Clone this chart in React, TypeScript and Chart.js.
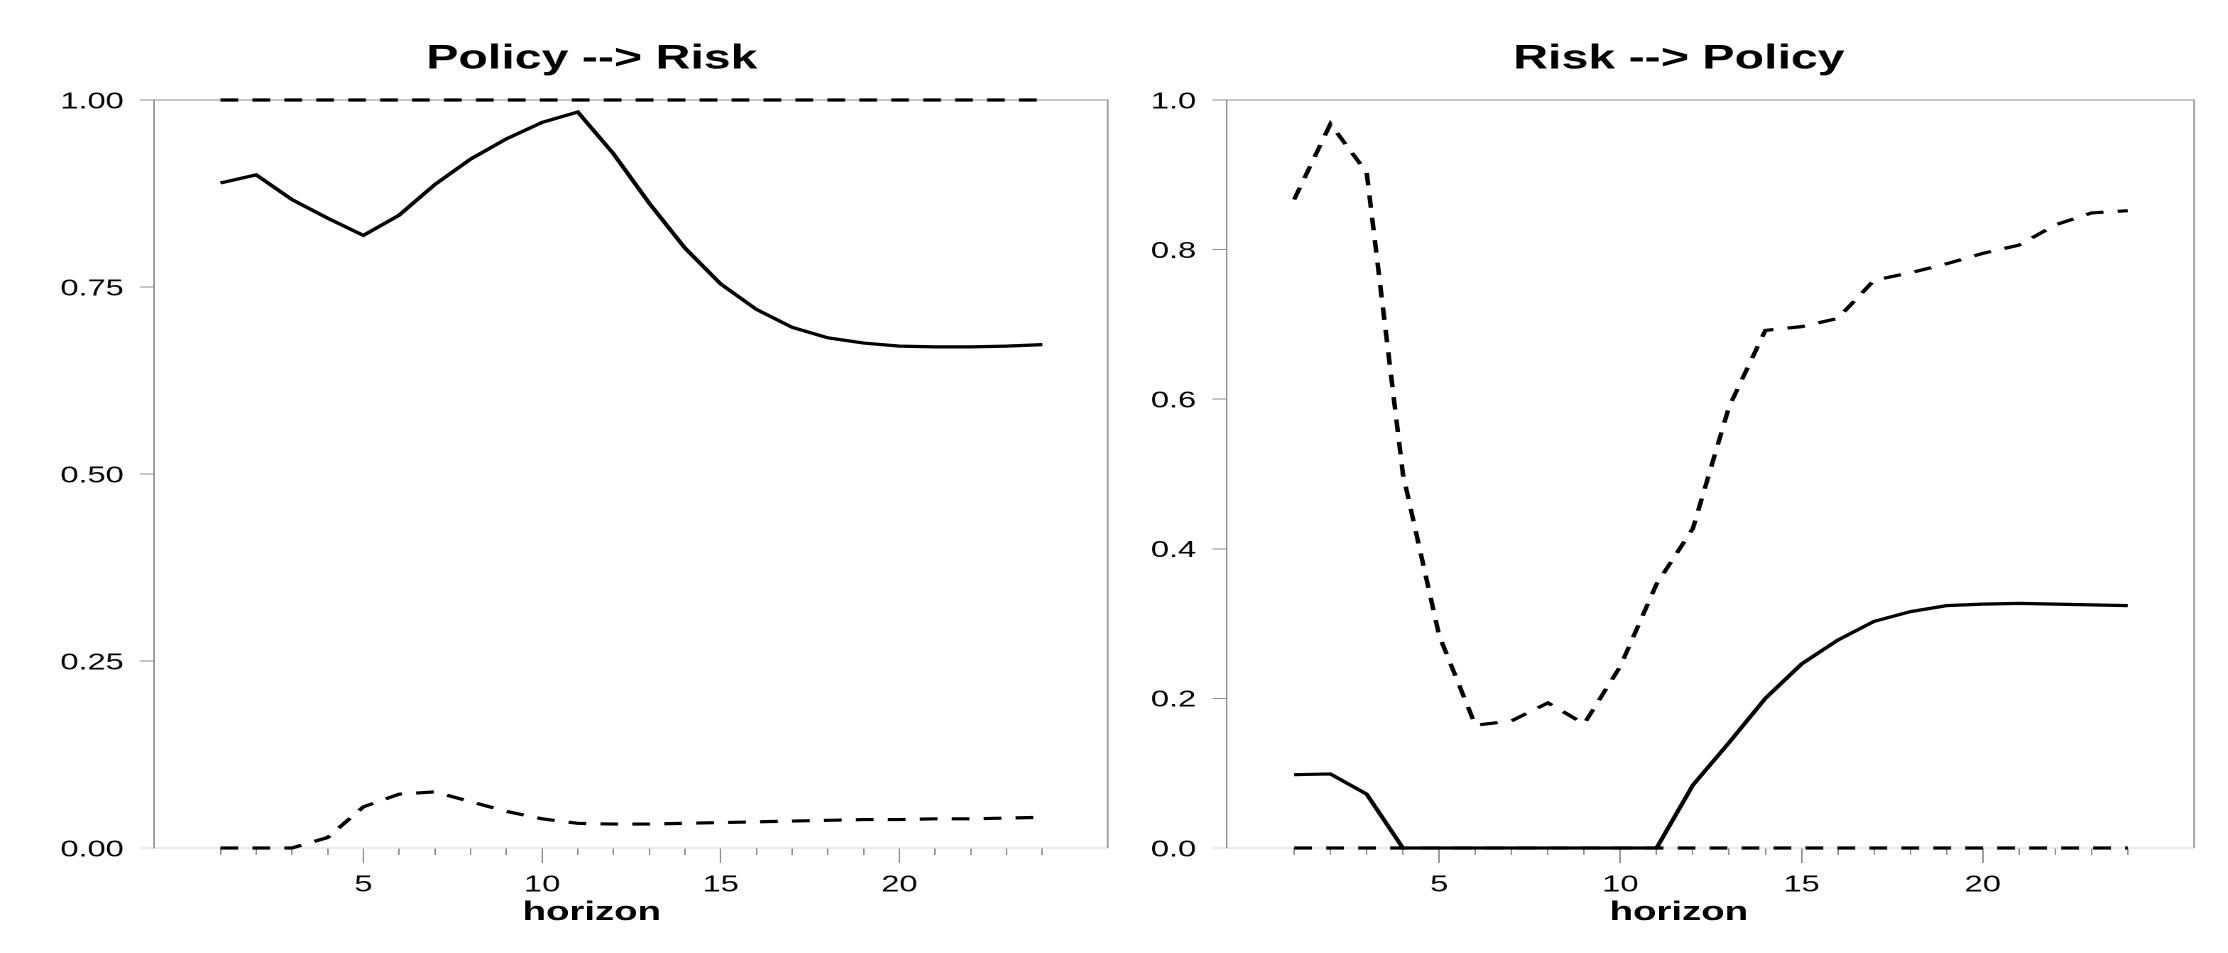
import React, { useEffect, useRef } from 'react';
import { Chart, registerables } from 'chart.js';

Chart.register(...registerables);

// ---------------- data ----------------
const horizons = [1, 2, 3, 4, 5, 6, 7, 8, 9, 10, 11, 12, 13, 14, 15, 16, 17, 18, 19, 20, 21, 22, 23, 24];

// Policy --> Risk
const prEstimate = [0.889, 0.900, 0.867, 0.842, 0.819, 0.846, 0.887, 0.921, 0.948, 0.970, 0.984, 0.928, 0.862, 0.802, 0.754, 0.720, 0.696, 0.682, 0.675, 0.671, 0.670, 0.670, 0.671, 0.673];
const prUpper = [1, 1, 1, 1, 1, 1, 1, 1, 1, 1, 1, 1, 1, 1, 1, 1, 1, 1, 1, 1, 1, 1, 1, 1];
const prLower = [0, 0, 0, 0.014, 0.055, 0.072, 0.075, 0.062, 0.049, 0.039, 0.033, 0.032, 0.032, 0.033, 0.034, 0.035, 0.036, 0.037, 0.038, 0.038, 0.039, 0.039, 0.040, 0.041];

// Risk --> Policy
const rpEstimate = [0.098, 0.099, 0.072, 0, 0, 0, 0, 0, 0, 0, 0, 0.084, 0.141, 0.200, 0.246, 0.278, 0.303, 0.316, 0.324, 0.326, 0.327, 0.326, 0.325, 0.324];
const rpUpper = [0.867, 0.968, 0.903, 0.500, 0.284, 0.164, 0.170, 0.194, 0.166, 0.243, 0.353, 0.427, 0.590, 0.692, 0.697, 0.708, 0.759, 0.769, 0.781, 0.795, 0.806, 0.833, 0.849, 0.852];
const rpLower = [0, 0, 0, 0, 0, 0, 0, 0, 0, 0, 0, 0, 0, 0, 0, 0, 0, 0, 0, 0, 0, 0, 0, 0];

const xMajorTicks = [5, 10, 15, 20];
const yTicksLeft = [0, 0.25, 0.5, 0.75, 1];
const yTicksRight = [0, 0.2, 0.4, 0.6, 0.8, 1];
const panelTitles = ['Policy --> Risk', 'Risk --> Policy'];
const xTitle = 'horizon';

// ---------------- styling / layout ----------------
const FONT = "'Liberation Sans', Arial, Helvetica, sans-serif";
const GRAY = '#8c8c8c';
const LIGHT = '#d6d6d6';
const STRETCH = 1.42; // horizontal stretch of the reference
const H = 953;
const X_MIN = -0.86;
const X_MAX = 25.83;
const DASH = [12.5, 10];
const LINE_W = 3.2;

interface PanelCfg {
  title: string;
  estimate: number[];
  upper: number[];
  lower: number[];
  yTicks: number[];
  decimals: number;
  width: number;
  padL: number;
  padR: number;
  yAxisWidth: number;
  labelShift: number;
  cssLeft: number;
}

const framePlugin = {
  id: 'frame',
  beforeDatasetsDraw(chart: any) {
    const { ctx, chartArea } = chart;
    const { left, right, top, bottom } = chartArea;
    ctx.save();
    ctx.strokeStyle = GRAY;
    ctx.lineWidth = 1;
    ctx.beginPath();
    ctx.moveTo(left, top);
    ctx.lineTo(right, top);
    ctx.lineTo(right, bottom);
    ctx.stroke();
    ctx.restore();
  },
};

function Panel({ cfg }: { cfg: PanelCfg }) {
  const ref = useRef<HTMLCanvasElement>(null);

  useEffect(() => {
    const canvas = ref.current;
    if (!canvas) return;
    const toPts = (arr: number[]) => horizons.map((h, i) => ({ x: h, y: arr[i] }));
    const base = {
      xAxisID: 'x',
      yAxisID: 'y',
      borderColor: '#000000',
      borderWidth: LINE_W,
      pointRadius: 0,
      pointHoverRadius: 0,
      fill: false,
      tension: 0,
      clip: 6,
    };
    const chart = new Chart(canvas, {
      type: 'line',
      data: {
        datasets: [
          { ...base, label: 'estimate', data: toPts(cfg.estimate) },
          { ...base, label: 'upper', data: toPts(cfg.upper), borderDash: DASH },
          { ...base, label: 'lower', data: toPts(cfg.lower), borderDash: DASH },
        ],
      },
      options: {
        responsive: false,
        animation: false,
        devicePixelRatio: 2,
        events: [],
        layout: { padding: { left: cfg.padL, right: cfg.padR, top: 0, bottom: 0 } },
        plugins: {
          legend: { display: false },
          tooltip: { enabled: false },
          title: {
            display: true,
            text: cfg.title,
            color: '#000',
            font: { family: FONT, size: 34, weight: 'bold', lineHeight: 1.2 },
            padding: { top: 38.5, bottom: 20.7 },
          },
          subtitle: {
            display: true,
            position: 'bottom',
            text: xTitle,
            color: '#000',
            font: { family: FONT, size: 27, weight: 'bold', lineHeight: 1.2 },
            padding: { top: 0, bottom: 24.5 },
          },
        },
        scales: {
          x: {
            type: 'linear',
            axis: 'x',
            position: 'bottom',
            min: X_MIN,
            max: X_MAX,
            afterBuildTicks: (s: any) => {
              s.ticks = xMajorTicks.map((v) => ({ value: v }));
            },
            afterFit: (s: any) => {
              s.height = 48.1;
            },
            ticks: {
              autoSkip: false,
              maxRotation: 0,
              padding: 8.5,
              color: '#000',
              font: { family: FONT, size: 23 },
              callback: (v: any) => String(v),
            },
            grid: { drawOnChartArea: false, tickLength: 15, tickColor: GRAY, tickWidth: 1 },
            border: { display: true, color: LIGHT, width: 1 },
          },
          xm: {
            type: 'linear',
            axis: 'x',
            position: { y: 0 },
            min: X_MIN,
            max: X_MAX,
            afterBuildTicks: (s: any) => {
              s.ticks = horizons.map((v) => ({ value: v }));
            },
            ticks: { display: false },
            grid: { drawOnChartArea: false, tickLength: 7, tickColor: GRAY, tickWidth: 1 },
            border: { display: false },
          },
          y: {
            type: 'linear',
            position: 'left',
            min: 0,
            max: 1,
            afterBuildTicks: (s: any) => {
              s.ticks = cfg.yTicks.map((v) => ({ value: v }));
            },
            afterFit: (s: any) => {
              s.width = cfg.yAxisWidth;
            },
            ticks: {
              mirror: true,
              crossAlign: 'near',
              padding: cfg.labelShift,
              labelOffset: 2,
              color: '#000',
              font: { family: FONT, size: 23 },
              callback: (v: any) => Number(v).toFixed(cfg.decimals),
            },
            grid: {
              drawOnChartArea: false,
              tickLength: 10,
              tickWidth: 1,
              tickColor: (ctx: any) => (ctx.tick && ctx.tick.value === 0 ? LIGHT : GRAY),
            },
            border: { display: true, color: GRAY, width: 1 },
          },
        },
      } as any,
      plugins: [framePlugin],
    });
    return () => chart.destroy();
  }, [cfg]);

  return (
    <canvas
      ref={ref}
      width={cfg.width}
      height={H}
      style={{
        position: 'absolute',
        left: cfg.cssLeft,
        top: 0,
        width: cfg.width * STRETCH,
        height: H,
      }}
    />
  );
}

const WA = 784;
const WB = 785;

const leftPanel: PanelCfg = {
  title: panelTitles[0],
  estimate: prEstimate,
  upper: prUpper,
  lower: prLower,
  yTicks: yTicksLeft,
  decimals: 2,
  width: WA,
  padL: 53.5,
  padR: 3.7,
  yAxisWidth: 54.95,
  labelShift: -66,
  cssLeft: 0,
};

const rightPanel: PanelCfg = {
  title: panelTitles[1],
  estimate: rpEstimate,
  upper: rpUpper,
  lower: rpLower,
  yTicks: yTicksRight,
  decimals: 1,
  width: WB,
  padL: 35.7,
  padR: 23.9,
  yAxisWidth: 44.4,
  labelShift: -53.5,
  cssLeft: WA * STRETCH,
};

export default function App() {
  return (
    <div
      style={{
        position: 'absolute',
        left: 0,
        top: 0,
        width: 2228,
        height: H,
        overflow: 'hidden',
        background: '#ffffff',
      }}
    >
      <Panel cfg={leftPanel} />
      <Panel cfg={rightPanel} />
    </div>
  );
}
